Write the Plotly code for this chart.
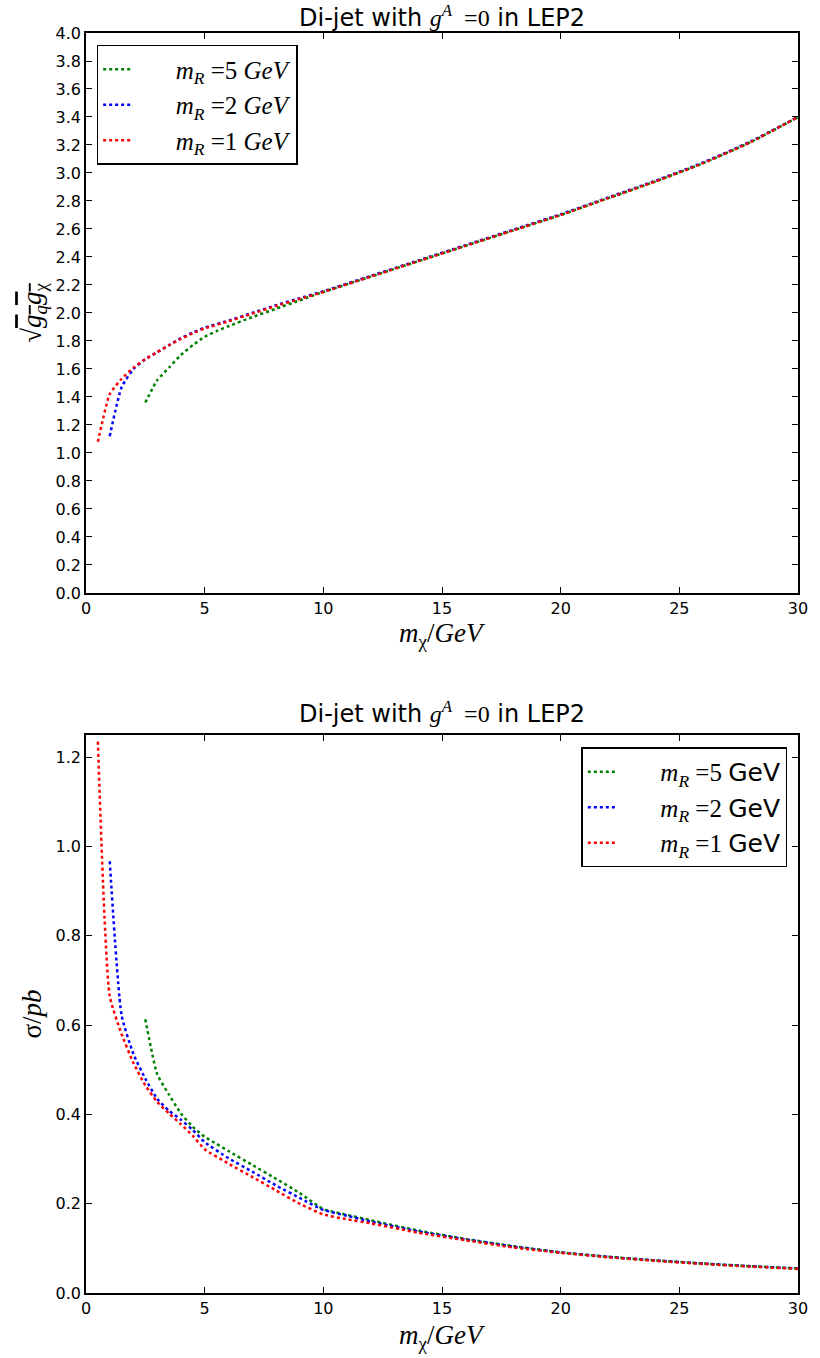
import plotly.graph_objects as go

# ---------------- data ----------------
# Top panel: sqrt(g_q g_chi) vs m_chi
top_x_r5 = [2.5, 3.0, 3.5, 4.0, 4.5, 5.0, 5.5, 6.0, 7.0, 8.0, 9.0, 10, 12, 14, 16, 18, 20, 22, 24, 26, 28, 30]
top_y_r5 = [1.36, 1.52, 1.61, 1.70, 1.77, 1.83, 1.87, 1.905, 1.97, 2.03, 2.09, 2.15, 2.26, 2.37, 2.48, 2.59, 2.70, 2.82, 2.94, 3.07, 3.22, 3.40]

top_x_r2 = [1.0, 1.5, 2.0, 2.5, 3.0, 3.5, 4.0, 4.5, 5.0, 6.0, 7.0, 8.0, 9.0, 10, 12, 14, 16, 18, 20, 22, 24, 26, 28, 30]
top_y_r2 = [1.12, 1.47, 1.60, 1.67, 1.72, 1.77, 1.82, 1.86, 1.895, 1.945, 2.00, 2.055, 2.105, 2.155, 2.265, 2.375, 2.485, 2.595, 2.705, 2.825, 2.945, 3.075, 3.225, 3.40]

top_x_r1 = [0.5, 1.0, 1.5, 2.0, 2.5, 3.0, 3.5, 4.0, 4.5, 5.0, 6.0, 7.0, 8.0, 9.0, 10, 12, 14, 16, 18, 20, 22, 24, 26, 28, 30]
top_y_r1 = [1.08, 1.42, 1.53, 1.61, 1.67, 1.72, 1.77, 1.815, 1.855, 1.89, 1.94, 1.995, 2.05, 2.10, 2.15, 2.26, 2.37, 2.48, 2.59, 2.70, 2.82, 2.94, 3.07, 3.22, 3.40]

# Bottom panel: sigma/pb vs m_chi
bot_x_r5 = [2.5, 3.0, 3.5, 4.0, 4.5, 5.0, 5.5, 6.0, 7.0, 8.0, 9.0, 10, 11, 12, 14, 16, 18, 20, 22, 24, 26, 28, 30]
bot_y_r5 = [0.613, 0.49, 0.444, 0.402, 0.372, 0.350, 0.334, 0.318, 0.287, 0.256, 0.224, 0.188, 0.175, 0.163, 0.140, 0.121, 0.105, 0.091, 0.081, 0.073, 0.066, 0.060, 0.055]

bot_x_r2 = [1.0, 1.5, 2.0, 2.5, 3.0, 3.5, 4.0, 4.5, 5.0, 6.0, 7.0, 8.0, 9.0, 10, 11, 12, 14, 16, 18, 20, 22, 24, 26, 28, 30]
bot_y_r2 = [0.967, 0.622, 0.535, 0.48, 0.435, 0.408, 0.388, 0.365, 0.338, 0.302, 0.272, 0.241, 0.213, 0.186, 0.173, 0.160, 0.138, 0.120, 0.104, 0.091, 0.081, 0.073, 0.066, 0.060, 0.055]

bot_x_r1 = [0.5, 1.0, 1.5, 2.0, 2.5, 3.0, 3.5, 4.0, 4.5, 5.0, 6.0, 7.0, 8.0, 9.0, 10, 11, 12, 14, 16, 18, 20, 22, 24, 26, 28, 30]
bot_y_r1 = [1.235, 0.665, 0.58, 0.515, 0.465, 0.428, 0.402, 0.378, 0.352, 0.322, 0.29, 0.26, 0.23, 0.20, 0.176, 0.165, 0.156, 0.135, 0.118, 0.102, 0.090, 0.080, 0.072, 0.065, 0.059, 0.054]

mr_values = [5, 2, 1]
colors = ["#008000", "#0000ff", "#ff0000"]

x_ticks = [0, 5, 10, 15, 20, 25, 30]

SANS = "DejaVu Sans"
SERIF = "Liberation Serif"
PAD = "\u00a0" * 6

fig = go.Figure()

top_sets = [(top_x_r5, top_y_r5), (top_x_r2, top_y_r2), (top_x_r1, top_y_r1)]
bot_sets = [(bot_x_r5, bot_y_r5), (bot_x_r2, bot_y_r2), (bot_x_r1, bot_y_r1)]

for (xs, ys), mr, c in zip(top_sets, mr_values, colors):
    fig.add_trace(go.Scatter(
        x=xs, y=ys, mode="lines", xaxis="x", yaxis="y",
        line=dict(color=c, width=2.5, dash="dot", shape="spline", smoothing=0.5),
        name=f"{PAD}<i>m</i><sub><i>R</i></sub> ={mr} <i>GeV</i>",
        legend="legend",
    ))

for (xs, ys), mr, c in zip(bot_sets, mr_values, colors):
    fig.add_trace(go.Scatter(
        x=xs, y=ys, mode="lines", xaxis="x2", yaxis="y2",
        line=dict(color=c, width=2.5, dash="dot", shape="spline", smoothing=0.5),
        name=f"{PAD}<i>m</i><sub><i>R</i></sub> ={mr} <span style='font-family:{SANS}'>GeV</span>",
        legend="legend2",
    ))

axis_common = dict(
    showline=True, linewidth=1.5, linecolor="black", mirror="allticks",
    ticks="inside", ticklen=6, tickwidth=1.2, tickcolor="black",
    showgrid=False, zeroline=False,
    tickfont=dict(family=SANS, size=16, color="black"),
)

TOP_DOM = [0.5556, 1.0]
BOT_DOM = [0.0, 0.4429]

LABEL_FONT = dict(family=SERIF, size=27, color="black")

fig.update_layout(
    width=820, height=1358,
    margin=dict(l=86, r=14, t=33, b=65),
    paper_bgcolor="white", plot_bgcolor="white",
    font=dict(family=SANS, color="black"),
    xaxis=dict(axis_common, domain=[0, 1], anchor="y", range=[0, 30], tickvals=x_ticks),
    yaxis=dict(axis_common, domain=TOP_DOM, anchor="x", range=[0, 4.0], dtick=0.2, tick0=0, tickformat=".1f",
               title=dict(text="√<span style='text-decoration:overline'><i>g</i><sub><i>q</i></sub><i>g</i><sub>χ</sub></span>",
                          font=LABEL_FONT, standoff=6)),
    xaxis2=dict(axis_common, domain=[0, 1], anchor="y2", range=[0, 30], tickvals=x_ticks),
    yaxis2=dict(axis_common, domain=BOT_DOM, anchor="x2", range=[0, 1.25], dtick=0.2, tick0=0, tickformat=".1f",
                title=dict(text="σ/<i>pb</i>", font=LABEL_FONT, standoff=6)),
    legend=dict(x=0.015, y=0.9905, xanchor="left", yanchor="top",
                bgcolor="white", bordercolor="black", borderwidth=1.5,
                font=dict(family=SERIF, size=25, color="black")),
    legend2=dict(x=0.985, y=0.433, xanchor="right", yanchor="top",
                 bgcolor="white", bordercolor="black", borderwidth=1.5,
                 font=dict(family=SERIF, size=25, color="black")),
    showlegend=True,
)

# panel titles
title_text = (f"Di-jet with <span style='font-family:{SERIF}'><i>g</i><sup><i>A</i></sup>  =0</span> in LEP2")
for dom, shift in ((TOP_DOM, 17), (BOT_DOM, 22)):
    fig.add_annotation(text=title_text, x=0.5, xref="paper", y=dom[1], yref="paper",
                       xanchor="center", yanchor="middle", yshift=shift, showarrow=False,
                       font=dict(family=SANS, size=24, color="black"))

# x-axis labels
xlabel = "<i>m</i><sub>χ</sub>/<i>GeV</i>"
for dom, shift in ((TOP_DOM, -42), (BOT_DOM, -44)):
    fig.add_annotation(text=xlabel, x=0.5, xref="paper", y=dom[0], yref="paper",
                       xanchor="center", yanchor="middle", yshift=shift, showarrow=False,
                       font=LABEL_FONT)

# remove the default 8px page margin so the figure fills the window exactly
fig.write_html("out.html", config={"displayModeBar": False},
               post_script="document.body.style.margin='0px';")
